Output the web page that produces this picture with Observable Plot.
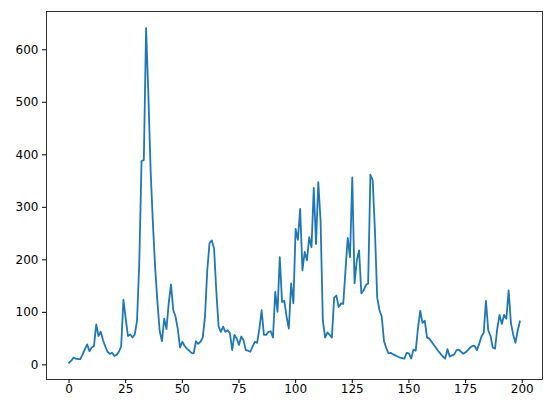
<!DOCTYPE html>
<html><head><meta charset="utf-8">
<script src="https://cdn.jsdelivr.net/npm/d3@7"></script>
<script src="https://cdn.jsdelivr.net/npm/@observablehq/plot@0.6"></script>
<style>html,body{margin:0;padding:0;background:#fff} svg{display:block}</style>
</head><body><div id="chart"></div>
<script>
const values = [
  4, 8, 14, 12, 11, 11, 20, 30, 39, 26,
  33, 36, 77, 55, 63, 47, 35, 25, 21, 23,
  17, 19, 25, 35, 124, 88, 55, 58, 52, 58,
  84, 195, 388, 390, 641, 515, 370, 270, 185, 120,
  65, 45, 88, 68, 118, 153, 104, 92, 68, 33,
  44, 36, 31, 27, 23, 22, 45, 40, 44, 52,
  92, 180, 232, 237, 222, 140, 73, 63, 73, 63,
  66, 60, 28, 57, 50, 38, 54, 47, 28, 27,
  25, 35, 44, 42, 69, 104, 57, 57, 63, 64,
  52, 139, 101, 205, 120, 122, 92, 69, 155, 117,
  259, 238, 297, 180, 215, 199, 243, 224, 337, 230,
  348, 275, 85, 52, 62, 57, 52, 128, 132, 110,
  117, 116, 180, 242, 205, 357, 155, 199, 218, 136,
  142, 152, 155, 362, 352, 255, 128, 104, 92, 45,
  32, 22, 23, 20, 18, 16, 14, 13, 12, 23,
  22, 12, 29, 27, 70, 103, 80, 84, 52, 50,
  44, 38, 32, 26, 21, 16, 12, 30, 16, 18,
  20, 28, 29, 25, 21, 24, 28, 33, 36, 36,
  28, 40, 54, 61, 122, 66, 55, 33, 31, 70,
  95, 78, 95, 88, 142, 80, 58, 42, 65, 83
];
const xTicks = [0, 25, 50, 75, 100, 125, 150, 175, 200];
const yTicks = [0, 100, 200, 300, 400, 500, 600];

const data = values.map((v, i) => ({x: i, y: v}));
const n = values.length;
const ymin = d3.min(values), ymax = d3.max(values);
const xpad = (n - 1) * 0.05, ypad = (ymax - ymin) * 0.05;

const chart = Plot.plot({
  width: 552, height: 413,
  marginLeft: 46, marginRight: 10, marginTop: 11, marginBottom: 34,
  style: {fontFamily: "DejaVu Sans", fontSize: "12px", background: "#fff", color: "#000", overflow: "visible"},
  x: {domain: [-xpad, n - 1 + xpad]},
  y: {domain: [ymin - ypad, ymax + ypad]},
  marks: [
    Plot.line(data, {x: "x", y: "y", stroke: "#1f77b4", strokeWidth: 1.8}),
    Plot.frame({stroke: "#000", strokeWidth: 0.8}),
    Plot.axisX({ticks: xTicks, tickSize: 4, tickPadding: 1, label: null, fontSize: 12}),
    Plot.axisY({ticks: yTicks, tickSize: 4, tickPadding: 4, label: null, fontSize: 12})
  ]
});
document.getElementById("chart").appendChild(chart);
</script>
</body></html>
